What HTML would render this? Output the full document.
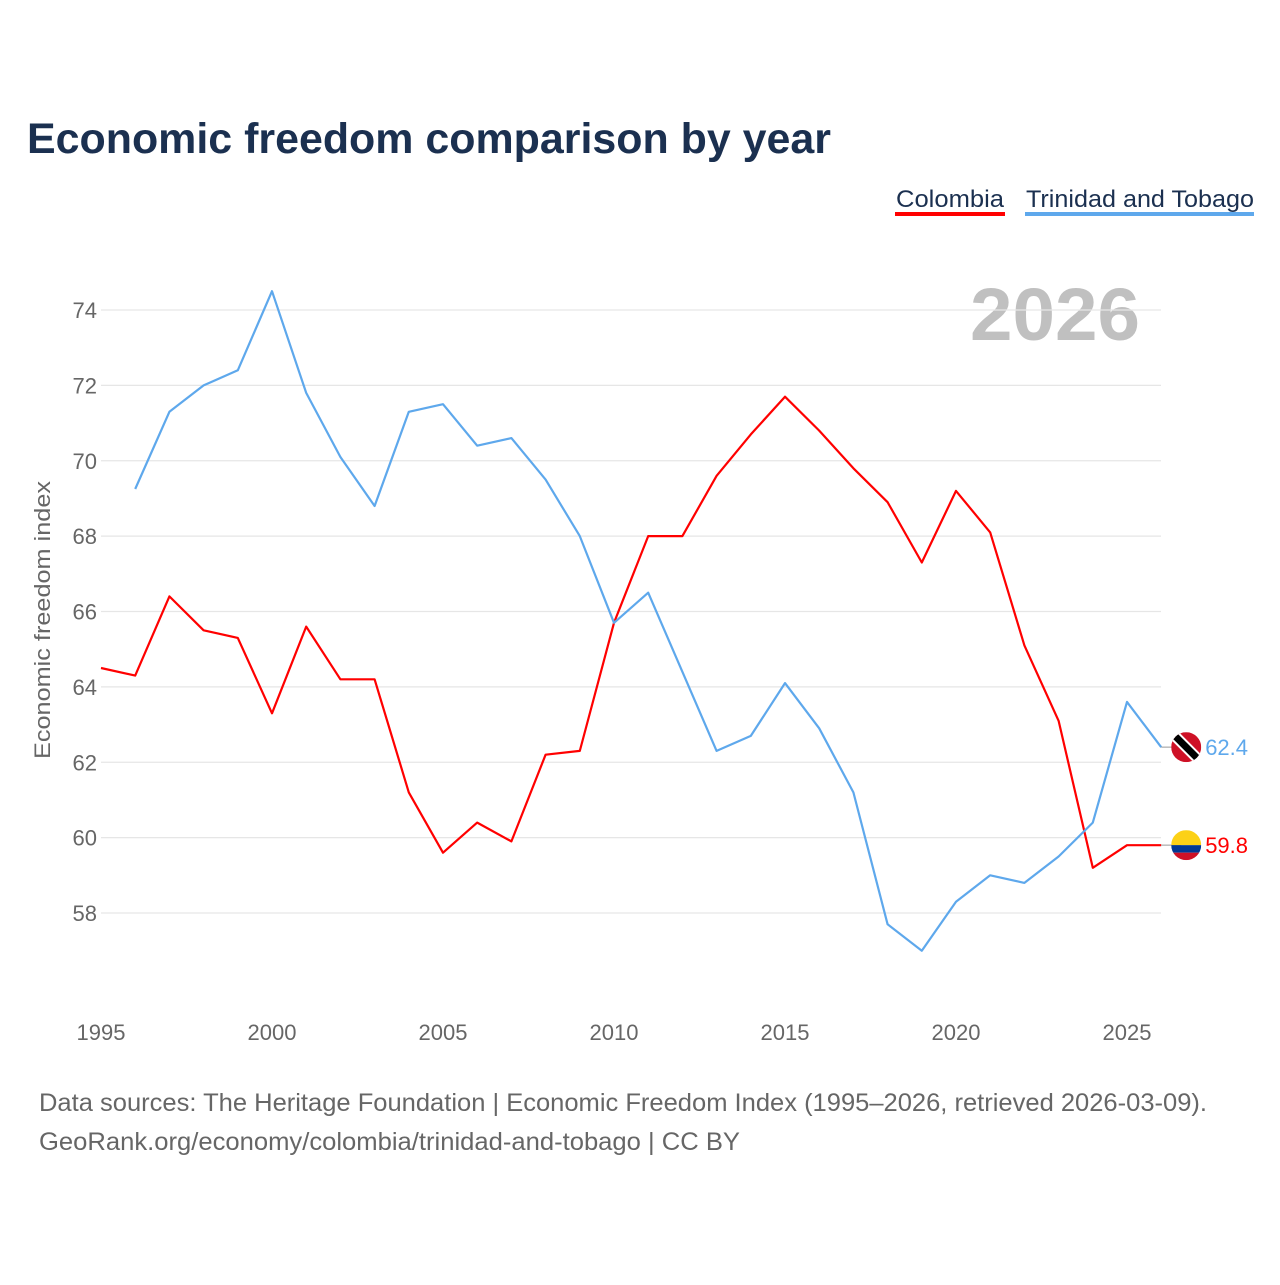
<!DOCTYPE html>
<html><head><meta charset="utf-8">
<style>
html,body{margin:0;padding:0;background:#fff;}
body{width:1280px;height:1280px;overflow:hidden;font-family:"Liberation Sans",sans-serif;}
svg text{font-family:"Liberation Sans",sans-serif;}
</style></head>
<body>
<svg id="chart" width="1280" height="1280" viewBox="0 0 1280 1280" xmlns="http://www.w3.org/2000/svg">
  <text x="27" y="153" font-size="43" font-weight="bold" fill="#1b3050" textLength="804" lengthAdjust="spacingAndGlyphs">Economic freedom comparison by year</text>
  <g>
    <g>
      <text x="896" y="207" font-size="24" fill="#1b3050" textLength="108" lengthAdjust="spacingAndGlyphs">Colombia</text>
      <rect x="895" y="212" width="110" height="4" fill="#ff0000"/>
    </g>
    <g>
      <text x="1026" y="207" font-size="24" fill="#1b3050" textLength="228" lengthAdjust="spacingAndGlyphs">Trinidad and Tobago</text>
      <rect x="1025" y="212" width="229" height="4" fill="#5ea8ec"/>
    </g>
  </g>
  <text x="1140" y="340" font-size="74" font-weight="bold" fill="#c0c0c0" text-anchor="end" textLength="170" lengthAdjust="spacingAndGlyphs">2026</text>
  <g id="grid"></g>
  <g id="yticks"></g>
  <g id="xticks"></g>
  <text transform="translate(50,620) rotate(-90)" font-size="22" fill="#666" text-anchor="middle" textLength="278" lengthAdjust="spacingAndGlyphs">Economic freedom index</text>
  <g id="series"></g>
  <text x="39" y="1111" font-size="25" fill="#666" textLength="1168" lengthAdjust="spacingAndGlyphs">Data sources: The Heritage Foundation | Economic Freedom Index (1995–2026, retrieved 2026-03-09).</text>
  <text x="39" y="1150" font-size="25" fill="#666" textLength="701" lengthAdjust="spacingAndGlyphs">GeoRank.org/economy/colombia/trinidad-and-tobago | CC BY</text>
</svg>
<script>
const colYears = [1995,1996,1997,1998,1999,2000,2001,2002,2003,2004,2005,2006,2007,2008,2009,2010,2011,2012,2013,2014,2015,2016,2017,2018,2019,2020,2021,2022,2023,2024,2025,2026];
const colombia = [64.5,64.3,66.4,65.5,65.3,63.3,65.6,64.2,64.2,61.2,59.6,60.4,59.9,62.2,62.3,65.7,68.0,68.0,69.6,70.7,71.7,70.8,69.8,68.9,67.3,69.2,68.1,65.1,63.1,59.2,59.8,59.8];
const ttYears = [1996,1997,1998,1999,2000,2001,2002,2003,2004,2005,2006,2007,2008,2009,2010,2011,2012,2013,2014,2015,2016,2017,2018,2019,2020,2021,2022,2023,2024,2025,2026];
const trinidad = [69.25,71.3,72.0,72.4,74.5,71.8,70.1,68.8,71.3,71.5,70.4,70.6,69.5,68.0,65.7,66.5,64.4,62.3,62.7,64.1,62.9,61.2,57.7,57.0,58.3,59.0,58.8,59.5,60.4,63.6,62.4];
const yTicks = [58,60,62,64,66,68,70,72,74];
const xTicks = [1995,2000,2005,2010,2015,2020,2025];

const NS = "http://www.w3.org/2000/svg";
const X = yr => 101 + (yr - 1995) * (1026 / 30);
const Y = v => 310 + (74 - v) * (603 / 16);
function mk(tag, attrs, parent){const e=document.createElementNS(NS,tag);for(const k in attrs)e.setAttribute(k,attrs[k]);parent.appendChild(e);return e;}

const grid=document.getElementById('grid'), yt=document.getElementById('yticks'), xt=document.getElementById('xticks'), ser=document.getElementById('series');
yTicks.forEach(v=>{
  const l=mk('line',{x1:101,x2:1161,y1:Y(v),y2:Y(v),stroke:'#e6e6e6','stroke-width':1.2},grid);
  
  
  const t=mk('text',{x:97,y:Y(v)+8,'font-size':22,fill:'#666','text-anchor':'end'},yt);
  t.textContent=v;
  
  
});
xTicks.forEach(yr=>{
  const t=mk('text',{x:X(yr),y:1040,'font-size':22,fill:'#666','text-anchor':'middle'},xt);
  t.textContent=yr;
  
  
});
function line(years, vals, color, name){
  const d=years.map((yr,i)=>(i?'L':'M')+X(yr).toFixed(1)+','+Y(vals[i]).toFixed(1)).join(' ');
  const p=mk('path',{d:d,fill:'none',stroke:color,'stroke-width':2.2,'stroke-linejoin':'round'},ser);
  
  
  const lx=X(years[years.length-1]), ly=Y(vals[vals.length-1]);
  mk('line',{x1:lx,x2:lx+20,y1:ly,y2:ly,stroke:'#999','stroke-width':1},ser);
  const t=mk('text',{x:lx+44,y:ly+8,'font-size':22,fill:color},ser);
  t.textContent=vals[vals.length-1].toFixed(1);
  
  
  return [lx+25,ly];
}
const [cx,cy]=line(colYears,colombia,'#ff0000','colombia');
const [tx,ty]=line(ttYears,trinidad,'#5ea8ec','trinidad');
const cf=mk('g',{},ser);


const cc=mk('clipPath',{id:'cc'},cf);
mk('circle',{cx:cx,cy:cy,r:15},cc);
const cg=mk('g',{'clip-path':'url(#cc)'},cf);
mk('rect',{x:cx-15,y:cy-15,width:30,height:15,fill:'#fcd116'},cg);
mk('rect',{x:cx-15,y:cy,width:30,height:7.5,fill:'#003893'},cg);
mk('rect',{x:cx-15,y:cy+7.5,width:30,height:7.5,fill:'#ce1126'},cg);
const tf=mk('g',{},ser);


const tc=mk('clipPath',{id:'tc'},tf);
mk('circle',{cx:tx,cy:ty,r:15},tc);
const tg=mk('g',{'clip-path':'url(#tc)'},tf);
mk('rect',{x:tx-15,y:ty-15,width:30,height:30,fill:'#ce1126'},tg);
mk('line',{x1:tx-15,y1:ty-15,x2:tx+15,y2:ty+15,stroke:'#fff','stroke-width':11},tg);
mk('line',{x1:tx-15,y1:ty-15,x2:tx+15,y2:ty+15,stroke:'#000','stroke-width':7},tg);
</script>
</body></html>
